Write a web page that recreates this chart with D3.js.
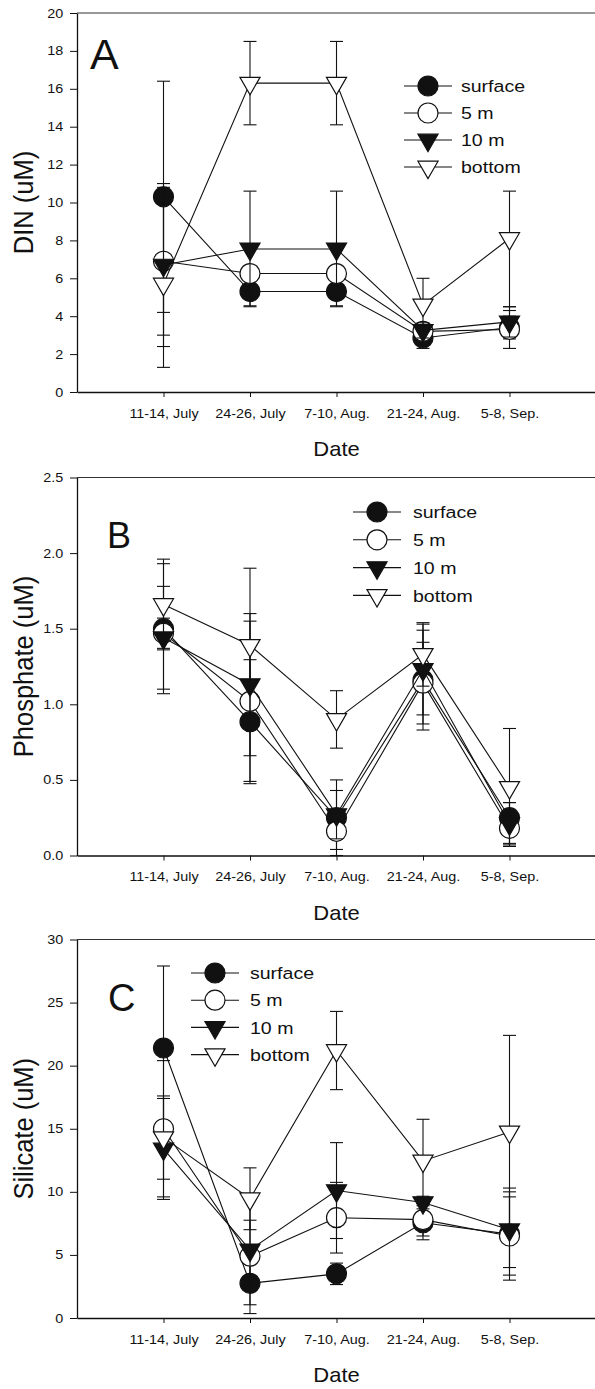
<!DOCTYPE html>
<html>
<head>
<meta charset="utf-8">
<script src="https://cdn.jsdelivr.net/npm/d3@7"></script>
<style>
  html, body { margin: 0; padding: 0; background: #fff; }
  svg { display: block; font-family: "Liberation Sans", Arial, Helvetica, sans-serif; }
</style>
</head>
<body>
<svg id="chart" width="595" height="1389"></svg>
<script>
// Sampling periods and depth series
const dates = ["11-14, July", "24-26, July", "7-10, Aug.", "21-24, Aug.", "5-8, Sep."];
const depthNames = ["surface", "5 m", "10 m", "bottom"];

// Panel A: DIN (uM); error bars given as [above, below]
const dinTicks = [0, 2, 4, 6, 8, 10, 12, 14, 16, 18, 20];
const dinSurface = [10.3, 5.3, 5.3, 2.85, 3.4];
const din5m      = [6.9, 6.25, 6.25, 3.2, 3.3];
const din10m     = [6.7, 7.55, 7.55, 3.25, 3.7];
const dinBottom  = [5.7, 16.3, 16.3, 4.6, 8.1];
const dinSurfaceErr = [[6.1, 6.1], [0.75, 0.75], [0.75, 0.75], [0.55, 0.55], [0.6, 0.6]];
const din5mErr      = [[3.9, 3.9], [0.4, 0.4], [0.4, 0.4], [0.4, 0.4], [1.0, 1.0]];
const din10mErr     = [[4.3, 4.3], [3.05, 3.05], [3.05, 3.05], [0.4, 0.4], [0.8, 0.8]];
const dinBottomErr  = [[4.4, 4.4], [2.2, 2.2], [2.2, 2.2], [1.4, 1.4], [2.5, 3.6]];

// Panel B: Phosphate (uM)
const phoTicks = [0, 0.5, 1.0, 1.5, 2.0, 2.5];
const phoSurface = [1.50, 0.885, 0.25, 1.16, 0.25];
const pho5m      = [1.47, 1.02, 0.16, 1.14, 0.18];
const pho10m     = [1.44, 1.13, 0.27, 1.23, 0.21];
const phoBottom  = [1.66, 1.39, 0.90, 1.33, 0.45];
const phoSurfaceErr = [[0.43, 0.43], [0.41, 0.41], [0.25, 0.25], [0.33, 0.33], [0.10, 0.10]];
const pho5mErr      = [[0.10, 0.10], [0.53, 0.53], [0.12, 0.12], [0.27, 0.27], [0.10, 0.10]];
const pho10mErr     = [[0.34, 0.34], [0.47, 0.47], [0.16, 0.16], [0.30, 0.30], [0.14, 0.14]];
const phoBottomErr  = [[0.30, 0.30], [0.51, 0.51], [0.19, 0.19], [0.21, 0.21], [0.39, 0.39]];

// Panel C: Silicate (uM)
const silTicks = [0, 5, 10, 15, 20, 25, 30];
const silSurface = [21.4, 2.75, 3.5, 7.55, 6.65];
const sil5m      = [15.0, 4.9, 7.95, 7.8, 6.5];
const sil10m     = [13.4, 5.4, 10.1, 9.15, 7.0];
const silBottom  = [14.3, 9.45, 21.2, 12.45, 14.75];
const silSurfaceErr = [[6.5, 6.5], [1.7, 1.7], [0.85, 0.85], [1.35, 1.35], [3.65, 3.65]];
const sil5mErr      = [[5.4, 5.4], [4.55, 4.55], [2.8, 2.8], [1.3, 1.3], [3.1, 3.1]];
const sil10mErr     = [[4.0, 4.0], [2.35, 2.35], [3.8, 3.8], [0.5, 0.5], [3.0, 3.0]];
const silBottomErr  = [[3.3, 3.3], [2.45, 2.45], [3.1, 3.1], [3.3, 3.3], [7.65, 7.65]];

const svg = d3.select("#chart");
const INK = "#111";
const X0 = 77, X1 = 596;
const x = d3.scalePoint().domain(dates).range([X0, X1]).padding(1);

const panels = [
  {
    letter: "A", letterX: 90, letterY: 69, letterSize: 43,
    title: "DIN (uM)", top: 13, bottom: 392, max: 20, ticks: dinTicks, fmt: d3.format("d"),
    series: [dinSurface, din5m, din10m, dinBottom],
    errs: [dinSurfaceErr, din5mErr, din10mErr, dinBottomErr],
    legX: 428, legY: 86, legDy: 27, legTextX: 461
  },
  {
    letter: "B", letterX: 107, letterY: 548, letterSize: 36,
    title: "Phosphate (uM)", top: 477.5, bottom: 855.5, max: 2.5, ticks: phoTicks, fmt: d3.format(".1f"),
    series: [phoSurface, pho5m, pho10m, phoBottom],
    errs: [phoSurfaceErr, pho5mErr, pho10mErr, phoBottomErr],
    legX: 377, legY: 512, legDy: 27.8, legTextX: 413
  },
  {
    letter: "C", letterX: 108, letterY: 1011, letterSize: 38,
    title: "Silicate (uM)", top: 939.5, bottom: 1318, max: 30, ticks: silTicks, fmt: d3.format("d"),
    series: [silSurface, sil5m, sil10m, silBottom],
    errs: [silSurfaceErr, sil5mErr, sil10mErr, silBottomErr],
    legX: 215, legY: 973, legDy: 27.2, legTextX: 250
  }
];

// Marker styles: filled circle, open circle, filled down-triangle, open down-triangle
const markerStyles = [
  { shape: d3.symbolCircle, size: 314, fill: INK, tri: false },
  { shape: d3.symbolCircle, size: 314, fill: "#fff", tri: false },
  { shape: d3.symbolTriangle, size: 175, fill: INK, tri: true },
  { shape: d3.symbolTriangle, size: 175, fill: "#fff", tri: true }
];

function drawMarker(g, cx, cy, st) {
  g.append("path")
    .attr("d", d3.symbol(st.shape, st.size)())
    .attr("transform", `translate(${cx},${cy})` + (st.tri ? " rotate(180)" : ""))
    .attr("fill", st.fill)
    .attr("stroke", INK)
    .attr("stroke-width", 1.2);
}

panels.forEach(p => {
  const g = svg.append("g");
  const y = d3.scaleLinear().domain([0, p.max]).range([p.bottom, p.top]);

  // top edge of the frame
  g.append("line")
    .attr("x1", X0).attr("x2", X1).attr("y1", p.top).attr("y2", p.top)
    .attr("stroke", "#333").attr("stroke-width", 1);

  // y axis
  const ya = g.append("g")
    .attr("transform", `translate(${X0},0)`)
    .call(d3.axisLeft(y).tickValues(p.ticks).tickFormat(p.fmt).tickSize(7).tickSizeOuter(0));
  ya.attr("font-family", null).attr("font-size", null);
  ya.select(".domain").attr("stroke", INK).attr("stroke-width", 1.3);
  ya.selectAll(".tick line").attr("stroke", INK).attr("stroke-width", 1);
  ya.selectAll(".tick text")
    .attr("x", -12).attr("fill", INK)
    .attr("transform", "scale(1.15,1)")
    .style("font-size", "12.5px");

  // x axis
  const xa = g.append("g")
    .attr("transform", `translate(0,${p.bottom})`)
    .call(d3.axisBottom(x).tickSize(5).tickPadding(12).tickSizeOuter(0));
  xa.attr("font-family", null).attr("font-size", null);
  xa.select(".domain").attr("stroke", INK).attr("stroke-width", 1.5);
  xa.selectAll(".tick line").attr("stroke", INK).attr("stroke-width", 1);
  xa.selectAll(".tick text")
    .attr("fill", INK)
    .attr("transform", "scale(1.15,1)")
    .style("font-size", "12.5px");

  // axis titles
  g.append("text")
    .attr("transform", `translate(33,${(p.top + p.bottom) / 2}) rotate(-90) scale(1,1.12)`)
    .attr("text-anchor", "middle")
    .attr("fill", INK)
    .style("font-size", "25.5px")
    .text(p.title);

  g.append("text")
    .attr("transform", `translate(${x(dates[2])},${p.bottom + 64}) scale(1.1,1)`)
    .attr("text-anchor", "middle")
    .attr("fill", INK)
    .style("font-size", "20px")
    .text("Date");

  // panel letter
  g.append("text")
    .attr("x", p.letterX).attr("y", p.letterY)
    .attr("fill", INK)
    .style("font-size", p.letterSize + "px")
    .text(p.letter);

  // series: connecting line, error bars, then markers
  const line = d3.line().x((d, i) => x(dates[i])).y(d => y(d));
  p.series.forEach((vals, si) => {
    g.append("path")
      .datum(vals)
      .attr("d", line)
      .attr("fill", "none")
      .attr("stroke", INK)
      .attr("stroke-width", 1.1);

    vals.forEach((v, i) => {
      const cx = x(dates[i]);
      const [up, down] = p.errs[si][i];
      [[v + up, up], [v - down, down]].forEach(([end, len]) => {
        if (len <= 0) return;
        g.append("line")
          .attr("x1", cx).attr("x2", cx).attr("y1", y(v)).attr("y2", y(end))
          .attr("stroke", INK).attr("stroke-width", 1.1);
        g.append("line")
          .attr("x1", cx - 6.5).attr("x2", cx + 6.5).attr("y1", y(end)).attr("y2", y(end))
          .attr("stroke", INK).attr("stroke-width", 1.1);
      });
    });

    vals.forEach((v, i) => drawMarker(g, x(dates[i]), y(v), markerStyles[si]));
  });

  // legend
  depthNames.forEach((name, si) => {
    const ly = p.legY + si * p.legDy;
    g.append("line")
      .attr("x1", p.legX - 24).attr("x2", p.legX + 24).attr("y1", ly).attr("y2", ly)
      .attr("stroke", INK).attr("stroke-width", 1.1);
    drawMarker(g, p.legX, ly, markerStyles[si]);
    g.append("text")
      .attr("transform", `translate(${p.legTextX},${ly}) scale(1.15,1)`)
      .attr("dy", "0.36em")
      .attr("fill", INK)
      .style("font-size", "17px")
      .text(name);
  });
});
</script>
</body>
</html>
